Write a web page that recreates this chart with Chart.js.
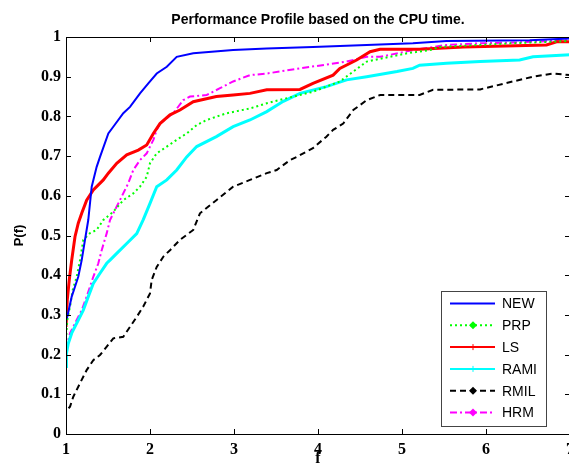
<!DOCTYPE html>
<html>
<head>
<meta charset="utf-8">
<script src="https://cdn.jsdelivr.net/npm/chart.js@4.4.0/dist/chart.umd.min.js"></script>
<style>
  html, body { margin: 0; padding: 0; background: #fff; overflow: hidden; }
  canvas { display: block; }
</style>
</head>
<body>
<canvas id="profileChart" width="572" height="472"></canvas>
<script>
// ==========================================
// 1. DATA
// ==========================================
const TITLE = 'Performance Profile based on the CPU time.';
const X_TICKS = [1, 2, 3, 4, 5, 6, 7];
const SERIES_NAMES = ['NEW', 'PRP', 'LS', 'RAMI', 'RMIL', 'HRM'];

const newX = [1.0, 1.015, 1.068, 1.107, 1.146, 1.187, 1.226, 1.265, 1.306, 1.365, 1.405, 1.504, 1.563, 1.682, 1.762, 1.881, 1.98, 2.08, 2.2, 2.318, 2.515, 2.99, 3.39, 3.94, 4.58, 5.13, 5.53, 6.52, 7.0];
const newY = [0.29, 0.295, 0.346, 0.371, 0.396, 0.438, 0.489, 0.539, 0.623, 0.673, 0.698, 0.757, 0.774, 0.808, 0.824, 0.858, 0.883, 0.908, 0.925, 0.950, 0.959, 0.967, 0.971, 0.975, 0.98, 0.984, 0.99, 0.992, 0.996];

const prpX = [1.0, 1.015, 1.048, 1.08, 1.127, 1.167, 1.206, 1.286, 1.365, 1.444, 1.563, 1.682, 1.801, 1.881, 1.961, 2.0, 2.08, 2.2, 2.318, 2.437, 2.556, 2.675, 2.913, 3.19, 3.39, 3.706, 3.94, 4.1, 4.26, 4.42, 4.58, 5.06, 5.33, 5.45, 6.29, 7.0];
const prpY = [0.237, 0.287, 0.321, 0.363, 0.396, 0.438, 0.489, 0.506, 0.514, 0.539, 0.560, 0.589, 0.606, 0.623, 0.648, 0.682, 0.707, 0.724, 0.741, 0.757, 0.778, 0.791, 0.808, 0.820, 0.833, 0.850, 0.862, 0.875, 0.888, 0.913, 0.938, 0.959, 0.967, 0.975, 0.984, 0.99];

const lsX = [1.0, 1.015, 1.039, 1.068, 1.107, 1.146, 1.187, 1.246, 1.325, 1.444, 1.504, 1.604, 1.723, 1.861, 1.961, 2.04, 2.119, 2.238, 2.357, 2.515, 2.79, 2.99, 3.19, 3.39, 3.786, 3.94, 4.18, 4.26, 4.46, 4.62, 4.74, 5.21, 5.73, 6.72, 6.84, 7.0];
const lsY = [0.27, 0.338, 0.388, 0.438, 0.497, 0.531, 0.556, 0.589, 0.615, 0.640, 0.657, 0.682, 0.703, 0.715, 0.728, 0.757, 0.782, 0.804, 0.816, 0.837, 0.850, 0.854, 0.858, 0.867, 0.868, 0.883, 0.904, 0.921, 0.942, 0.963, 0.969, 0.969, 0.975, 0.98, 0.988, 0.988];

const ramiX = [1.0, 1.005, 1.027, 1.068, 1.127, 1.206, 1.265, 1.325, 1.405, 1.485, 1.524, 1.604, 1.723, 1.842, 1.92, 2.0, 2.08, 2.2, 2.318, 2.437, 2.556, 2.79, 2.99, 3.19, 3.39, 3.587, 3.786, 4.1, 4.34, 4.58, 4.94, 5.13, 5.21, 5.53, 5.93, 6.4, 6.56, 7.0];
const ramiY = [0.17, 0.203, 0.228, 0.254, 0.279, 0.312, 0.346, 0.379, 0.405, 0.430, 0.438, 0.455, 0.480, 0.505, 0.540, 0.581, 0.623, 0.640, 0.665, 0.698, 0.724, 0.749, 0.774, 0.791, 0.812, 0.838, 0.858, 0.875, 0.892, 0.900, 0.913, 0.921, 0.929, 0.934, 0.938, 0.942, 0.950, 0.955];

const rmilX = [1.03, 1.048, 1.087, 1.167, 1.246, 1.325, 1.405, 1.485, 1.563, 1.682, 1.762, 1.842, 1.92, 2.0, 2.02, 2.08, 2.16, 2.238, 2.357, 2.515, 2.595, 2.79, 2.99, 3.19, 3.39, 3.508, 3.667, 3.746, 3.94, 4.1, 4.18, 4.3, 4.42, 4.58, 4.74, 5.21, 5.37, 5.93, 6.32, 6.56, 6.8, 7.0];
const rmilY = [0.065, 0.069, 0.094, 0.128, 0.161, 0.186, 0.199, 0.220, 0.241, 0.245, 0.270, 0.295, 0.321, 0.354, 0.388, 0.421, 0.447, 0.463, 0.489, 0.514, 0.556, 0.589, 0.623, 0.640, 0.657, 0.665, 0.690, 0.698, 0.720, 0.749, 0.766, 0.782, 0.816, 0.841, 0.854, 0.854, 0.867, 0.868, 0.888, 0.900, 0.908, 0.904];

const hrmX = [1.0, 1.048, 1.107, 1.187, 1.246, 1.325, 1.385, 1.425, 1.485, 1.524, 1.604, 1.663, 1.742, 1.801, 1.881, 1.961, 2.04, 2.08, 2.119, 2.277, 2.396, 2.476, 2.675, 2.833, 2.99, 3.19, 3.39, 3.786, 4.34, 4.58, 4.74, 5.13, 5.53, 5.93, 6.32, 7.0];
const hrmY = [0.212, 0.254, 0.279, 0.312, 0.346, 0.396, 0.430, 0.463, 0.506, 0.539, 0.573, 0.598, 0.632, 0.665, 0.690, 0.707, 0.741, 0.766, 0.782, 0.808, 0.841, 0.850, 0.854, 0.871, 0.888, 0.904, 0.908, 0.921, 0.938, 0.950, 0.950, 0.967, 0.980, 0.984, 0.986, 0.992];

// ==========================================
// 2. HELPERS & PLUGINS
// ==========================================
const toPoints = (xs, ys) => xs.map((x, i) => ({ x, y: ys[i] }));

const SERIF = "'Liberation Serif', 'Times New Roman', serif";
const SANS = "'Liberation Sans', Arial, sans-serif";

// Matlab-like box: frame plus inward tick marks on every side
const matlabBox = {
    id: 'matlabBox',
    afterDraw(chart) {
        const { ctx, chartArea: a, scales: { x, y } } = chart;
        const len = 5;
        ctx.save();
        ctx.strokeStyle = '#000';
        ctx.lineWidth = 1;
        ctx.strokeRect(a.left + 0.5, a.top + 0.5, a.right - a.left, a.bottom - a.top);
        ctx.beginPath();
        x.ticks.forEach(t => {
            const px = Math.round(x.getPixelForValue(t.value)) + 0.5;
            ctx.moveTo(px, a.bottom); ctx.lineTo(px, a.bottom - len);
            ctx.moveTo(px, a.top); ctx.lineTo(px, a.top + len);
        });
        y.ticks.forEach(t => {
            const py = Math.round(y.getPixelForValue(t.value)) + 0.5;
            ctx.moveTo(a.left, py); ctx.lineTo(a.left + len, py);
            ctx.moveTo(a.right, py); ctx.lineTo(a.right - len, py);
        });
        ctx.stroke();
        ctx.restore();
    }
};

function drawMarker(ctx, style, cx, cy, color) {
    ctx.save();
    ctx.setLineDash([]);
    ctx.fillStyle = color;
    ctx.strokeStyle = color;
    ctx.lineWidth = 1;
    if (style === 'diamond') {
        ctx.beginPath();
        ctx.moveTo(cx, cy - 4); ctx.lineTo(cx + 4, cy);
        ctx.lineTo(cx, cy + 4); ctx.lineTo(cx - 4, cy);
        ctx.closePath(); ctx.fill();
    } else if (style === 'plus') {
        ctx.beginPath();
        ctx.moveTo(cx - 3, cy); ctx.lineTo(cx + 3, cy);
        ctx.moveTo(cx, cy - 3); ctx.lineTo(cx, cy + 3);
        ctx.stroke();
    }
    ctx.restore();
}

// Boxed legend sitting in the lower right of the plot
const boxLegend = {
    id: 'boxLegend',
    afterDraw(chart) {
        const { ctx, chartArea: a } = chart;
        const w = 105, h = 135;
        const left = a.right - 24 - w, top = a.bottom - 8 - h;
        ctx.save();
        ctx.fillStyle = '#fff';
        ctx.fillRect(left, top, w, h);
        ctx.strokeStyle = '#444';
        ctx.lineWidth = 1;
        ctx.strokeRect(left + 0.5, top + 0.5, w, h);
        ctx.font = '14px ' + SANS;
        ctx.textBaseline = 'middle';
        chart.data.datasets.forEach((ds, i) => {
            const cy = top + 12.5 + i * 21.8;
            ctx.strokeStyle = ds.borderColor;
            ctx.lineWidth = Math.min(ds.borderWidth, 2);
            ctx.setLineDash(ds.borderDash || []);
            ctx.beginPath();
            ctx.moveTo(left + 9, cy); ctx.lineTo(left + 54, cy);
            ctx.stroke();
            drawMarker(ctx, ds.legendMarker, left + 32, cy, ds.borderColor);
            ctx.fillStyle = '#000';
            ctx.fillText(ds.label, left + 61, cy + 1);
        });
        ctx.restore();
    }
};

// ==========================================
// 3. CHART
// ==========================================
const datasets = [
    { label: SERIES_NAMES[0], data: toPoints(newX, newY), borderColor: '#0000ff', borderWidth: 2, borderDash: [], legendMarker: 'none' },
    { label: SERIES_NAMES[1], data: toPoints(prpX, prpY), borderColor: '#00ff00', borderWidth: 2, borderDash: [2, 3], legendMarker: 'diamond' },
    { label: SERIES_NAMES[2], data: toPoints(lsX, lsY), borderColor: '#ff0000', borderWidth: 3, borderDash: [], legendMarker: 'plus' },
    { label: SERIES_NAMES[3], data: toPoints(ramiX, ramiY), borderColor: '#00ffff', borderWidth: 3, borderDash: [], legendMarker: 'plus' },
    { label: SERIES_NAMES[4], data: toPoints(rmilX, rmilY), borderColor: '#000000', borderWidth: 2, borderDash: [6, 4], legendMarker: 'diamond' },
    { label: SERIES_NAMES[5], data: toPoints(hrmX, hrmY), borderColor: '#ff00ff', borderWidth: 2, borderDash: [7, 3, 2, 3], legendMarker: 'diamond' }
].map(ds => ({ ...ds, pointRadius: 0, fill: false, tension: 0 }));

const ctx = document.getElementById('profileChart').getContext('2d');

new Chart(ctx, {
    type: 'line',
    data: { datasets },
    options: {
        responsive: false,
        animation: false,
        layout: { padding: { top: 0, right: 2, bottom: 0, left: 0 } },
        plugins: {
            legend: { display: false },
            tooltip: { enabled: false },
            title: {
                display: true,
                text: TITLE,
                color: '#000',
                fullSize: false, // centre over the plot area, like Matlab
                font: { family: SANS, size: 14, weight: 'bold', lineHeight: 1.2 },
                padding: { top: 11.6, bottom: 8.6 }
            }
        },
        scales: {
            x: {
                type: 'linear',
                min: 1,
                max: 7,
                afterBuildTicks: s => { s.ticks = X_TICKS.map(v => ({ value: v })); },
                ticks: { color: '#000', padding: 6, maxRotation: 0, font: { family: SERIF, size: 16, weight: 'bold' } },
                grid: { display: false, drawTicks: false },
                border: { display: false },
                title: { display: true, text: 'f', color: '#000', font: { family: SERIF, size: 16, weight: 'bold' }, padding: { top: 0, bottom: 4 } },
                afterFit: s => { s.height = 38; s.paddingLeft = 0; s.paddingRight = 0; }
            },
            y: {
                min: 0,
                max: 1,
                ticks: { stepSize: 0.1, color: '#000', padding: 5, font: { family: SERIF, size: 16, weight: 'bold' },
                         callback: v => (Math.round(v * 10) / 10).toString() },
                grid: { display: false, drawTicks: false },
                border: { display: false },
                title: { display: true, text: 'P(f)', color: '#000', font: { family: SANS, size: 13, weight: 'bold' }, padding: { top: 12, bottom: 0 } },
                afterFit: s => { s.width = 66; s.paddingTop = 0; s.paddingBottom = 0; }
            }
        }
    },
    plugins: [matlabBox, boxLegend]
});
</script>
</body>
</html>
